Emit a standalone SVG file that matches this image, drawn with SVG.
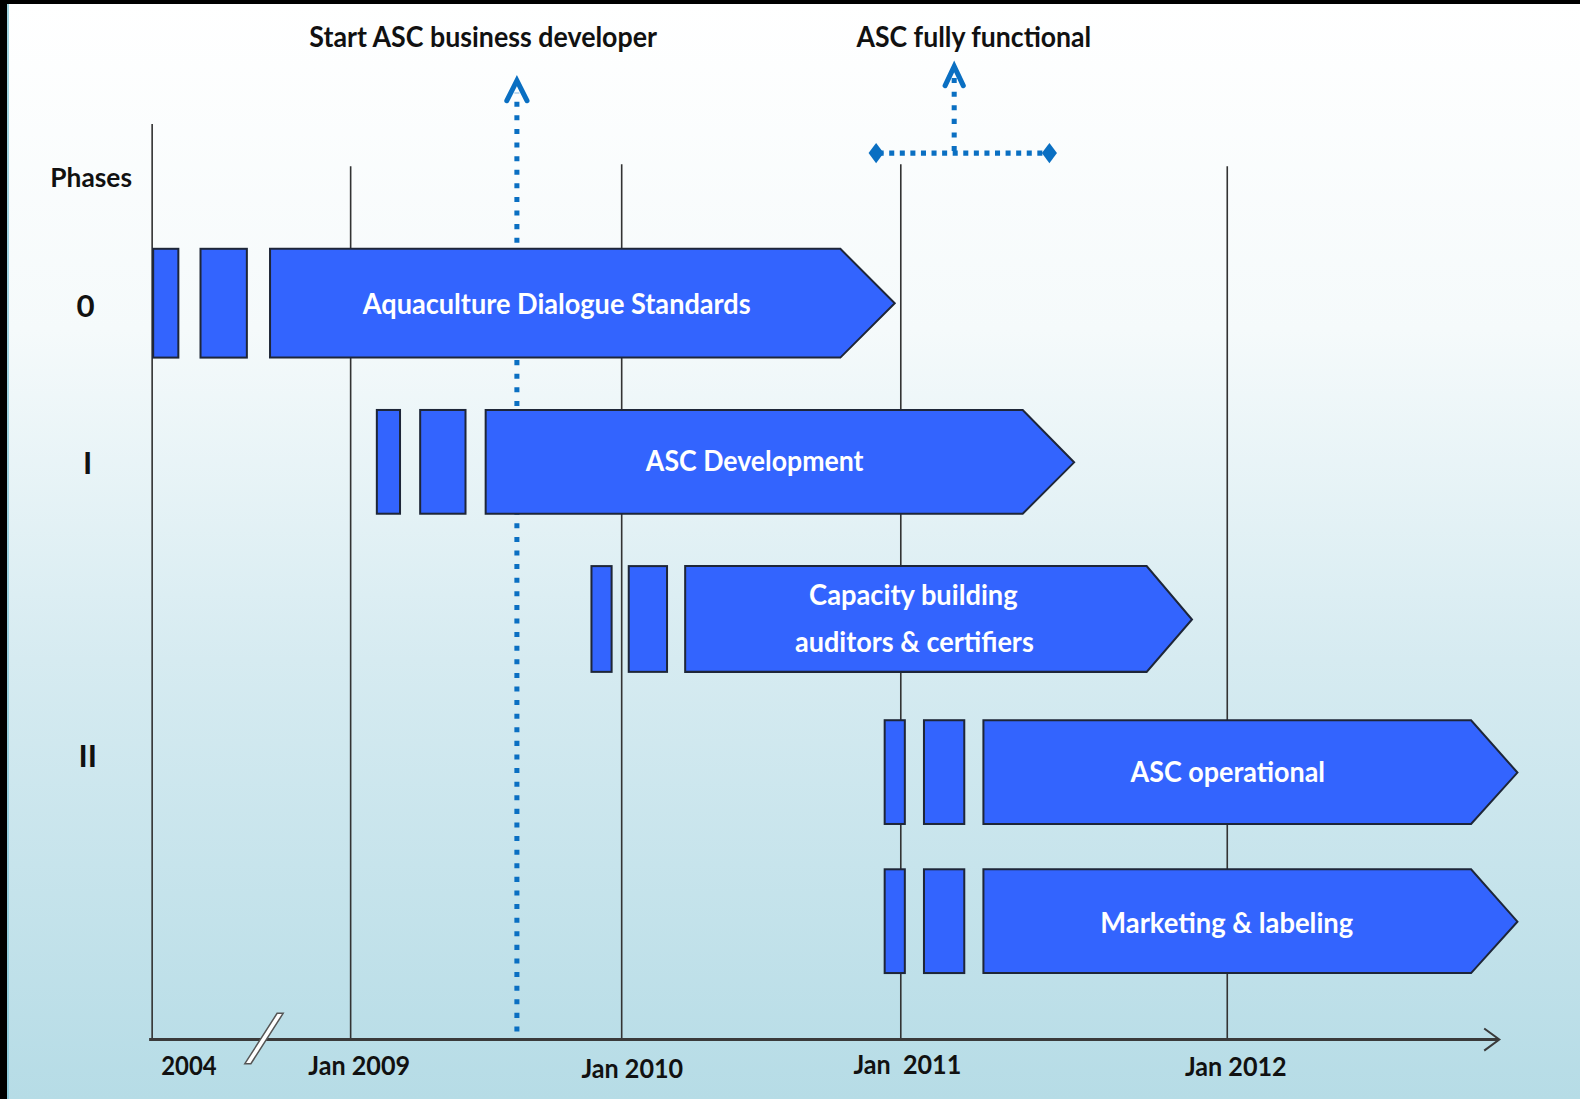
<svg xmlns="http://www.w3.org/2000/svg" width="1580" height="1099" viewBox="0 0 1580 1099">
<defs>
<linearGradient id="bg" x1="0" y1="0" x2="0" y2="1">
<stop offset="0" stop-color="#ffffff"/>
<stop offset="0.3" stop-color="#f5fafb"/>
<stop offset="0.6" stop-color="#d6ebf1"/>
<stop offset="1" stop-color="#b6dce6"/>
</linearGradient>
<style>
.grid{stroke:#333;stroke-width:1.6;fill:none}
.bar{fill:#3364fe;stroke:#1e2638;stroke-width:2}
.dot{stroke:#0a6fc2;stroke-width:5;stroke-dasharray:5 8.5;fill:none}
.doth{stroke:#0a6fc2;stroke-width:5;stroke-dasharray:5 5.5;fill:none}
.head{stroke:#0a6fc2;stroke-width:5;fill:none;stroke-linejoin:miter;stroke-linecap:round}
.t{font-family:Lato,"Open Sans","Liberation Sans",sans-serif;font-weight:bold;text-anchor:middle}
.dark{fill:#111}
.white{fill:#fff}
</style>
</defs>
<rect x="0" y="0" width="1580" height="1099" fill="url(#bg)"/>
<rect x="0" y="0" width="1580" height="4" fill="#000"/>
<rect x="0" y="0" width="7" height="1099" fill="#000"/>
<line x1="8" y1="4" x2="8" y2="1099" stroke="#7fc4d6" stroke-width="1.5"/>
<g transform="scale(1.0076,1.0073)">
<g id="grid">
<line class="grid" x1="151" y1="123" x2="151" y2="1032"/>
<line class="grid" x1="348" y1="165" x2="348" y2="1032"/>
<line class="grid" x1="617" y1="163" x2="617" y2="1032"/>
<line class="grid" x1="894" y1="163" x2="894" y2="1032"/>
<line class="grid" x1="1218" y1="165" x2="1218" y2="1032"/>
</g>
<g id="connectors">
<line class="dot" x1="513" y1="1024" x2="513" y2="92"/>
<polyline class="head" points="503,100 513,80 523,100"/>
<line class="doth" x1="872" y1="152" x2="1036" y2="152"/>
<line class="dot" x1="947" y1="150" x2="947" y2="76"/>
<polyline class="head" points="938,85 947,66 956,85"/>
<polygon points="862,152 869.5,142 877,152 869.5,162" fill="#0a6fc2"/>
<polygon points="1034,152 1041.5,142 1049,152 1041.5,162" fill="#0a6fc2"/>
</g>
<g id="axis">
<line x1="148" y1="1032" x2="1487" y2="1032" stroke="#3a3a3a" stroke-width="3"/>
<polyline points="1473,1021 1488,1032 1473,1043" fill="none" stroke="#3a3a3a" stroke-width="2"/>
<polygon points="243,1056 249,1056 281,1006 275,1006" fill="#fff" stroke="#555" stroke-width="1.5"/>
</g>
<g id="phase0">
<rect class="bar" x="152" y="247" width="25" height="108"/>
<rect class="bar" x="199" y="247" width="46" height="108"/>
<polygon class="bar" points="268,247 834,247 888,301 834,355 268,355"/>
<text class="t white" x="552.5" y="312" font-size="28" textLength="385" lengthAdjust="spacingAndGlyphs">Aquaculture Dialogue Standards</text>
</g>
<g id="phase1">
<rect class="bar" x="374" y="407" width="23" height="103"/>
<rect class="bar" x="417" y="407" width="45" height="103"/>
<polygon class="bar" points="482,407 1015,407 1066,459 1015,510 482,510"/>
<text class="t white" x="749" y="468" font-size="28" textLength="216" lengthAdjust="spacingAndGlyphs">ASC Development</text>
</g>
<g id="capacity">
<rect class="bar" x="587" y="562" width="20" height="105"/>
<rect class="bar" x="624" y="562" width="38" height="105"/>
<polygon class="bar" points="680,562 1138,562 1183,615 1138,667 680,667"/>
<text class="t white" x="906.5" y="601" font-size="28" textLength="207" lengthAdjust="spacingAndGlyphs">Capacity building</text>
<text class="t white" x="907.5" y="647" font-size="28" textLength="237" lengthAdjust="spacingAndGlyphs">auditors &amp; certifiers</text>
</g>
<g id="operational">
<rect class="bar" x="878" y="715" width="20" height="103"/>
<rect class="bar" x="917" y="715" width="40" height="103"/>
<polygon class="bar" points="976,715 1460,715 1506,767 1460,818 976,818"/>
<text class="t white" x="1218.5" y="776" font-size="28" textLength="193" lengthAdjust="spacingAndGlyphs">ASC operational</text>
</g>
<g id="marketing">
<rect class="bar" x="878" y="863" width="20" height="103"/>
<rect class="bar" x="917" y="863" width="40" height="103"/>
<polygon class="bar" points="976,863 1460,863 1506,915 1460,966 976,966"/>
<text class="t white" x="1217.5" y="926" font-size="28" textLength="251" lengthAdjust="spacingAndGlyphs">Marketing &amp; labeling</text>
</g>
<g id="labels">
<text class="t dark" x="479.5" y="47" font-size="28" textLength="345" lengthAdjust="spacingAndGlyphs">Start ASC business developer</text>
<text class="t dark" x="966.5" y="47" font-size="28" textLength="233" lengthAdjust="spacingAndGlyphs">ASC fully functional</text>
<text class="t dark" x="90.5" y="186" font-size="27" textLength="81" lengthAdjust="spacingAndGlyphs">Phases</text>
<text class="t dark" x="85" y="315" font-size="31">0</text>
<text class="t dark" x="87" y="471" font-size="31">I</text>
<text class="t dark" x="87" y="761" font-size="31">II</text>
<text class="t dark" x="187.5" y="1067" font-size="26" textLength="55" lengthAdjust="spacingAndGlyphs">2004</text>
<text class="t dark" x="356.5" y="1067" font-size="26" textLength="101" lengthAdjust="spacingAndGlyphs">Jan 2009</text>
<text class="t dark" x="627.5" y="1070" font-size="26" textLength="101" lengthAdjust="spacingAndGlyphs">Jan 2010</text>
<text class="t dark" x="900.5" y="1066" font-size="26" textLength="107" lengthAdjust="spacingAndGlyphs" xml:space="preserve">Jan  2011</text>
<text class="t dark" x="1226.5" y="1068" font-size="26" textLength="101" lengthAdjust="spacingAndGlyphs">Jan 2012</text>
</g>
</g>
</svg>
